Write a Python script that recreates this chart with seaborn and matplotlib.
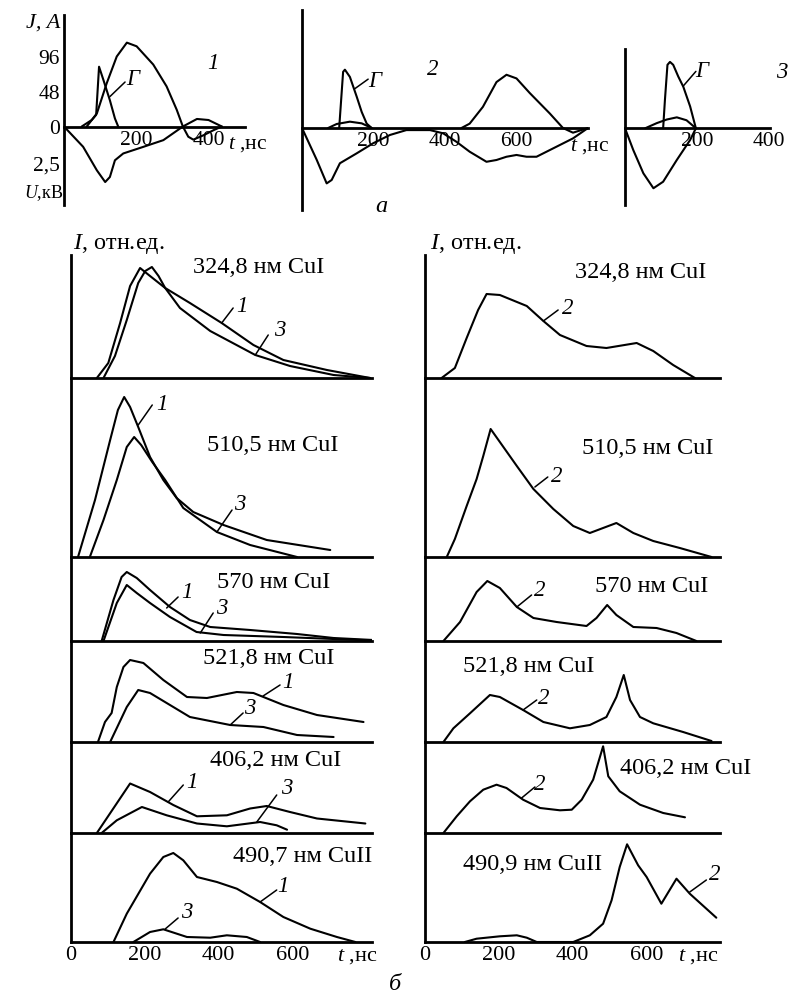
import matplotlib
matplotlib.use("Agg")
import matplotlib.pyplot as plt
import seaborn as sns

sns.set_style("white")
plt.rcParams['font.family'] = ['Liberation Serif', 'DejaVu Serif']
plt.rcParams['mathtext.fontset'] = 'custom'
plt.rcParams['mathtext.rm'] = 'Liberation Serif'
plt.rcParams['mathtext.it'] = 'Liberation Serif:italic'
for k in ['text.color', 'axes.labelcolor', 'xtick.color', 'ytick.color', 'axes.edgecolor']:
    plt.rcParams[k] = 'black'

# ---------------- data: (a) current J (A), voltage U (kV), t in ns -------------
a1_J_t = [63, 91, 118, 146, 174, 201, 247, 284, 312, 329, 344, 358, 386, 414, 437]
a1_J = [0, 18, 59, 96, 115, 110, 85, 55, 23, 0, -14, -18, -12, -5, 0]
a1_G_t = [49, 77, 89, 97, 109, 127, 141, 150]
a1_G = [0, 9, 16, 82, 64, 36, 11, 0]
a1_U_t = [0, 53, 91, 114, 127, 141, 164, 220, 275, 329, 368, 400, 437]
a1_U = [0, -1.37, -2.96, -3.75, -3.41, -2.28, -1.82, -1.37, -0.92, 0, 0.51, 0.44, 0]

a2_G_t = [104, 115, 120, 134, 153, 167, 181, 195]
a2_G = [0, 77, 80, 70, 43, 22, 6, 0]
a2_S_t = [73, 97, 134, 167, 195]
a2_S = [0, 5.5, 8.7, 6.4, 0]
a2_J_t = [446, 469, 506, 544, 572, 600, 637, 693, 730, 758, 800]
a2_J = [0, 6, 29, 63, 73, 68, 48, 20, 0, -6.4, 0]
a2_U_t = [0, 41, 69, 83, 106, 153, 199, 246, 292, 358, 395, 432, 469, 516, 544,
          572, 600, 628, 656, 712, 758, 800]
a2_U = [0, -2.14, -3.74, -3.51, -2.38, -1.71, -1.03, -0.47, -0.14, -0.14, -0.36,
        -0.93, -1.6, -2.28, -2.16, -1.94, -1.82, -1.94, -1.94, -1.26, -0.7, 0]

a3_G_t = [106, 111, 118, 125, 134, 148, 162, 181, 197]
a3_G = [0, 39, 87, 91, 87, 71, 57, 30, 0]
a3_S_t = [56, 88, 116, 144, 171, 197]
a3_S = [0, 7, 12, 15, 11, 0]
a3_U_t = [0, 23, 51, 79, 106, 144, 181, 197]
a3_U = [0, -1.47, -3.04, -4.05, -3.61, -2.14, -0.79, 0]

KV = 20.3  # display scale: 1 kV drawn as 20.3 A on the shared axis

# ---------------- data: (б) line intensities, rel. units ----------------
L1_t1 = [70, 101, 133, 160, 187, 214, 255, 322, 408, 494, 575, 693, 810]
L1_h1 = [0, 15, 55, 92, 110, 102, 90, 75, 55, 33, 18, 8, 0]
L1_t3 = [88, 119, 151, 182, 201, 219, 237, 255, 295, 377, 499, 593, 711, 810]
L1_h3 = [0, 22, 58, 95, 107, 111, 102, 90, 70, 47, 23, 12, 3, 0]

L2_t1 = [19, 65, 106, 127, 144, 160, 182, 214, 250, 286, 331, 413, 530, 702]
L2_h1 = [0, 57, 117, 147, 160, 150, 130, 100, 77, 59, 45, 32, 17, 7]
L2_t3 = [51, 88, 124, 151, 171, 190, 220, 255, 304, 395, 485, 612]
L2_h3 = [0, 37, 77, 110, 120, 112, 95, 77, 49, 25, 12, 0]

L3_t1 = [83, 115, 137, 151, 178, 214, 268, 322, 377, 485, 612, 711, 818]
L3_h1 = [0, 41, 64, 69, 63, 51, 34, 21, 14, 11, 7, 3, 1]
L3_t3 = [88, 124, 151, 178, 214, 268, 340, 413, 575, 711, 818]
L3_h3 = [0, 38, 56, 48, 38, 24, 9, 6, 4, 2, 0.5]

L4_t1 = [73, 92, 110, 124, 142, 160, 196, 250, 314, 368, 449, 494, 575, 666, 792]
L4_h1 = [0, 20, 29, 55, 75, 82, 79, 62, 45, 44, 50, 49, 37, 27, 20]
L4_t3 = [106, 124, 151, 182, 214, 259, 322, 431, 521, 612, 711]
L4_h3 = [0, 14, 35, 52, 49, 39, 25, 17, 15, 7, 5]

L5_t1 = [70, 160, 214, 277, 341, 422, 485, 530, 593, 666, 797]
L5_h1 = [0, 49.5, 41, 28, 16.7, 17.7, 24.5, 27, 21, 14.5, 9.5]
L5_t3 = [83, 124, 192, 259, 341, 422, 512, 557, 585]
L5_h3 = [0, 12.7, 26, 17.7, 9.5, 6.7, 11, 7.7, 3.3]

L6_t1 = [115, 151, 214, 250, 277, 304, 341, 395, 449, 512, 575, 648, 720, 770]
L6_h1 = [0, 28.3, 68.3, 85, 89, 81.7, 65, 60, 53.3, 40, 25, 13.3, 5, 0]
L6_t3 = [169, 214, 250, 314, 377, 422, 476, 512]
L6_h3 = [0, 10, 12.7, 5, 4.3, 6.7, 5, 0]

R1_t = [45, 81, 113, 144, 167, 203, 276, 321, 366, 438, 492, 574, 619, 673, 732]
R1_h = [0, 10, 40, 68, 84, 83, 72, 57, 43, 32, 30, 35, 27, 13, 0]
R2_t = [59, 81, 113, 140, 158, 178, 203, 249, 294, 348, 402, 447, 483, 519, 565, 619, 691, 777]
R2_h = [0, 18, 51, 78, 101, 128, 115, 91, 68, 48, 31, 24, 29, 34, 24, 16, 9, 0]
R3_t = [50, 95, 140, 169, 203, 249, 294, 357, 438, 465, 494, 519, 565, 628, 682, 736]
R3_h = [0, 19, 49, 60, 53, 34, 23, 19, 15, 23, 36, 26, 14, 13, 8, 0]
R4_t = [50, 77, 122, 176, 203, 266, 321, 393, 447, 492, 519, 539, 556, 583, 619, 700, 777]
R4_h = [0, 13.7, 28.7, 47, 45, 32, 20, 13.7, 17, 25, 45, 67, 42, 25, 18.7, 10, 1]
R5_t = [50, 86, 122, 158, 194, 221, 266, 312, 366, 398, 425, 456, 483, 497, 528, 583, 646, 705]
R5_h = [0, 16.7, 31.7, 43.3, 48.3, 45, 33.3, 25, 22.7, 23.3, 33.3, 53.3, 86.7, 56.7, 41.7, 28.3, 20, 15.7]
R6_t = [108, 140, 203, 249, 276, 303, 402, 447, 483, 506, 528, 548, 578, 601, 641, 682, 718, 790]
R6_h = [0, 3.3, 5.7, 6.7, 4.3, 0, 0, 6.7, 18.3, 41.7, 75, 97.7, 76.7, 65, 38.3, 63.3, 48.3, 24.3]

titles_left = ["324,8 нм CuI", "510,5 нм CuI", "570 нм CuI", "521,8 нм CuI",
               "406,2 нм CuI", "490,7 нм CuII"]
titles_right = ["324,8 нм CuI", "510,5 нм CuI", "570 нм CuI", "521,8 нм CuI",
                "406,2 нм CuI", "490,9 нм CuII"]

W, H = 788, 999
LW = 1.5
AXW = 2.0
FS = 15.5     # ticks, curve numbers
FT = 17.5     # panel titles, axis names
fig = plt.figure(figsize=(W / 100, H / 100), dpi=100)


def px_axes(x0, y0, x1, y1):
    return fig.add_axes([x0 / W, 1 - y1 / H, (x1 - x0) / W, (y1 - y0) / H])


def ftext(x, y, s, **kw):
    kw.setdefault('fontsize', FT)
    fig.text(x / W, 1 - y / H, s, **kw)


def curve(ax, t, v, scale=1.0):
    sns.lineplot(x=t, y=[scale * q for q in v], ax=ax, color='black',
                 linewidth=LW, sort=False, estimator=None)


def tag(ax, s, tx, ty, lx, ly):
    ax.plot(lx, ly, color='black', lw=1.1)
    ax.text(tx, ty, s, fontsize=FS + 1, fontstyle='italic', ha='center', va='center')


# ---------------- (a) top oscillograms ----------------
def setup_top(ax, xmax, ylim, xt, xl, yt, yl):
    ax.set_xlim(0, xmax)
    ax.set_ylim(*ylim)
    ax.patch.set_alpha(0)
    ax.spines['top'].set_visible(False)
    ax.spines['right'].set_visible(False)
    ax.spines['bottom'].set_position(('data', 0))
    for s in ['left', 'bottom']:
        ax.spines[s].set_linewidth(AXW)
    ax.set_xticks(xt)
    ax.set_xticklabels(xl)
    ax.set_yticks(yt)
    ax.set_yticklabels(yl)
    ax.tick_params(direction='in', length=6, width=1.5, labelsize=FS, pad=3)
    ax.set_xlabel('')
    ax.set_ylabel('')


axA1 = px_axes(64, 15, 245, 205)
curve(axA1, a1_J_t, a1_J)
curve(axA1, a1_G_t, a1_G)
curve(axA1, a1_U_t, a1_U, KV)
setup_top(axA1, 501, (-107.6, 152.9), [100, 200, 300, 400, 500],
          ['', '200', '', '400', ''], [96, 48, 0, -2.5 * KV], ['96', '48', '0', '2,5'])
tag(axA1, 'Г', 190, 64, [127, 169], [41, 61])
axA1.text(413, 87, '1', fontsize=FS + 1, fontstyle='italic', ha='center', va='center')

axA2 = px_axes(302, 10, 588, 210)
curve(axA2, a2_G_t, a2_G)
curve(axA2, a2_S_t, a2_S)
curve(axA2, a2_J_t, a2_J)
curve(axA2, a2_U_t, a2_U, KV)
setup_top(axA2, 800, (-112.4, 161.8), list(range(100, 900, 100)),
          ['', '200', '', '400', '', '600', '', ''], [96, 48, -2.5 * KV], [])
tag(axA2, 'Г', 203, 64, [148, 185], [54, 67])
axA2.text(366, 80, '2', fontsize=FS + 1, fontstyle='italic', ha='center', va='center')

axA3 = px_axes(625, 49, 770, 205)
curve(axA3, a3_G_t, a3_G)
curve(axA3, a3_S_t, a3_S)
curve(axA3, a3_U_t, a3_U, KV)
setup_top(axA3, 403, (-105.2, 108.7), [100, 200, 300, 400],
          ['', '200', '', '400'], [48, -2.5 * KV], [])
tag(axA3, 'Г', 212, 78, [162, 197], [58, 78])
axA3.text(436, 77, '3', fontsize=FS + 1, fontstyle='italic', ha='center', va='center')

ftext(26, 23, 'J, A', fontstyle='italic', ha='left', va='center', fontsize=16)
ftext(24, 193, '$U$,кВ', ha='left', va='center', fontsize=13)
ftext(228, 145, '$t$ ,нс', ha='left', va='center', fontsize=FS)
ftext(570, 147, '$t$ ,нс', ha='left', va='center', fontsize=FS)
ftext(381, 207, 'а', fontstyle='italic', ha='center', va='center')

# ---------------- (б) stacked intensity panels ----------------
bounds = [(255, 378), (378, 557), (557, 641), (641, 742), (742, 833), (833, 942)]

left_sets = [
    [(L1_t1, L1_h1), (L1_t3, L1_h3)],
    [(L2_t1, L2_h1), (L2_t3, L2_h3)],
    [(L3_t1, L3_h1), (L3_t3, L3_h3)],
    [(L4_t1, L4_h1), (L4_t3, L4_h3)],
    [(L5_t1, L5_h1), (L5_t3, L5_h3)],
    [(L6_t1, L6_h1), (L6_t3, L6_h3)],
]
right_sets = [(R1_t, R1_h), (R2_t, R2_h), (R3_t, R3_h),
              (R4_t, R4_h), (R5_t, R5_h), (R6_t, R6_h)]

# label text pos (t, h) and leader segment for each panel
left_tags = [
    [('1', 463, 71, [408, 439], [55, 70]), ('3', 566, 48, [499, 534], [23, 43])],
    [('1', 247, 152, [182, 220], [132, 152]), ('3', 458, 52, [395, 436], [25, 47])],
    [('1', 314, 48, [259, 290], [33, 44]), ('3', 408, 33, [350, 385], [8, 28])],
    [('1', 588, 60, [520, 566], [46, 57]), ('3', 485, 33, [431, 466], [17, 29])],
    [('1', 327, 50, [263, 304], [31, 48]), ('3', 585, 45, [503, 557], [11, 38])],
    [('1', 575, 55, [512, 557], [40, 52]), ('3', 314, 29, [255, 290], [13, 24])],
]
right_tags = [
    ('2', 388, 70, [321, 361], [57, 68]),
    ('2', 357, 81, [298, 333], [70, 80]),
    ('2', 312, 51, [249, 289], [34, 46]),
    ('2', 321, 44, [266, 303], [32, 42]),
    ('2', 312, 48, [262, 298], [35, 46]),
    ('2', 786, 67, [718, 763], [50, 62]),
]
title_left_pos = [(193, 267), (207, 445), (217, 582), (203, 658), (210, 760), (233, 857)]
title_right_pos = [(575, 272), (582, 448), (595, 587), (463, 667), (620, 768), (463, 865)]


def setup_bottom(ax, xmax, ymax, ticks, last):
    ax.set_xlim(0, xmax)
    ax.set_ylim(0, ymax)
    ax.patch.set_alpha(0)
    ax.spines['top'].set_visible(False)
    ax.spines['right'].set_visible(False)
    for s in ['left', 'bottom']:
        ax.spines[s].set_linewidth(AXW)
    ax.set_yticks([])
    ax.set_xticks(ticks)
    if last:
        ax.set_xticklabels(['0' if t == 0 else (str(t) if t in (200, 400, 600) else '')
                            for t in ticks])
    else:
        ax.set_xticklabels([])
    ax.tick_params(axis='x', direction='in', length=6, width=1.5, labelsize=FS + 0.5, pad=3)
    ax.set_xlabel('')
    ax.set_ylabel('')


for i, (top, bot) in enumerate(bounds):
    last = i == len(bounds) - 1
    axl = px_axes(71, top, 372, bot)
    for t, h in left_sets[i]:
        curve(axl, t, h)
    setup_bottom(axl, 815, bot - top, list(range(0, 800, 100)), last)
    for s, tx, ty, lx, ly in left_tags[i]:
        tag(axl, s, tx, ty, lx, ly)
    ftext(*title_left_pos[i], titles_left[i], ha='left', va='center')

    axr = px_axes(425, top, 720, bot)
    curve(axr, *right_sets[i])
    setup_bottom(axr, 800, bot - top, list(range(0, 900, 100)), last)
    s, tx, ty, lx, ly = right_tags[i]
    tag(axr, s, tx, ty, lx, ly)
    ftext(*title_right_pos[i], titles_right[i], ha='left', va='center')

ftext(73, 244, '$I$, отн.ед.', ha='left', va='center')
ftext(430, 244, '$I$, отн.ед.', ha='left', va='center')
ftext(337, 956, '$t$ ,нс', ha='left', va='center', fontsize=FS + 0.5)
ftext(678, 956, '$t$ ,нс', ha='left', va='center', fontsize=FS + 0.5)
ftext(395, 985, 'б', fontstyle='italic', ha='center', va='center')

fig.savefig('out.png', dpi=100)
